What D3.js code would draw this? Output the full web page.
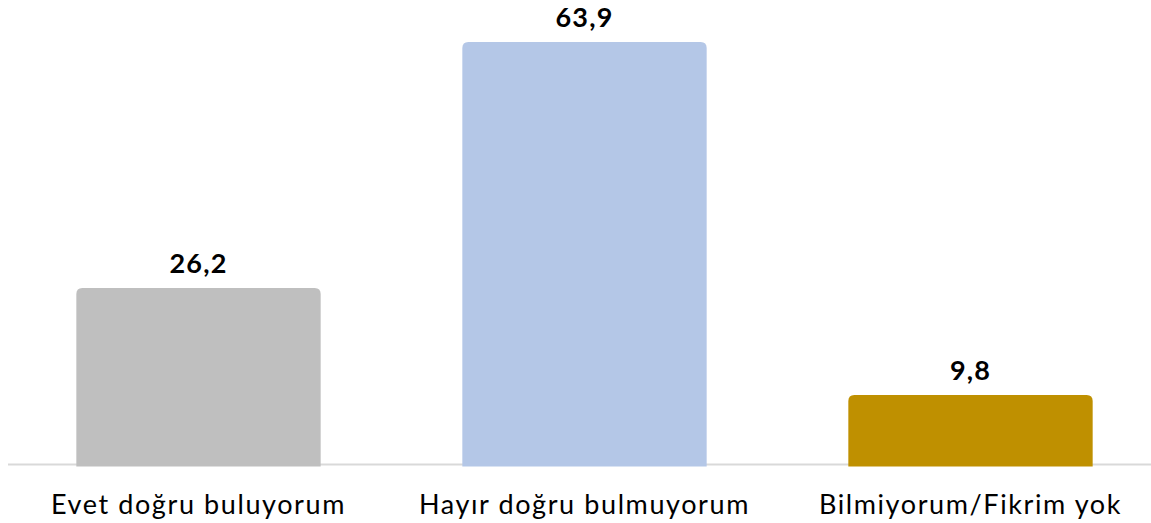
<!DOCTYPE html>
<html><head><meta charset="utf-8">
<script src="https://cdn.jsdelivr.net/npm/d3@7"></script>
<style>html,body{margin:0;padding:0;background:#fff;}svg{display:block;}</style>
</head><body>
<svg id="c" width="1151" height="523"></svg>
<script>
const categories = ["Evet doğru buluyorum", "Hayır doğru bulmuyorum", "Bilmiyorum/Fikrim yok"];
const values = [26.2, 63.9, 9.8];
const colors = ["#bfbfbf", "#b4c7e7", "#bf9000"];
const valueLabels = ["26,2", "63,9", "9,8"];

const W = 1151, H = 523;
const svg = d3.select("#c");
const font = "Lato, 'Open Sans', sans-serif";

const x = d3.scaleBand().domain(categories).range([5.5, 1163.5]).paddingInner(0.367).paddingOuter(0.1835);
const y = d3.scaleLinear().domain([0, 70]).range([459, 2.2]);
const axisY = 464.5;
const r = 6;

// axis line
svg.append("line").attr("x1", 8).attr("x2", W).attr("y1", axisY).attr("y2", axisY)
  .attr("stroke", "#d9d9d9").attr("stroke-width", 2);

const bw = x.bandwidth();
svg.selectAll("path.bar").data(values).join("path").attr("class", "bar")
  .attr("fill", (d, i) => colors[i])
  .attr("d", (d, i) => {
    const x0 = x(categories[i]), x1 = x0 + bw, t = y(d), b = axisY + 2;
    return `M${x0},${b}V${t + r}Q${x0},${t} ${x0 + r},${t}H${x1 - r}Q${x1},${t} ${x1},${t + r}V${b}Z`;
  });

svg.selectAll("text.val").data(values).join("text").attr("class", "val")
  .attr("x", (d, i) => x(categories[i]) + bw / 2)
  .attr("y", d => y(d) - 15)
  .attr("text-anchor", "middle")
  .attr("font-family", font).attr("font-weight", 700).attr("font-size", 27)
  .attr("letter-spacing", 1.2)
  .attr("fill", "#000")
  .text((d, i) => valueLabels[i]);

svg.selectAll("text.cat").data(categories).join("text").attr("class", "cat")
  .attr("x", d => x(d) + bw / 2)
  .attr("y", 514)
  .attr("text-anchor", "middle")
  .attr("font-family", font).attr("font-size", 27)
  .attr("letter-spacing", 1.6)
  .attr("fill", "#000")
  .text(d => d);
</script>
</body></html>
